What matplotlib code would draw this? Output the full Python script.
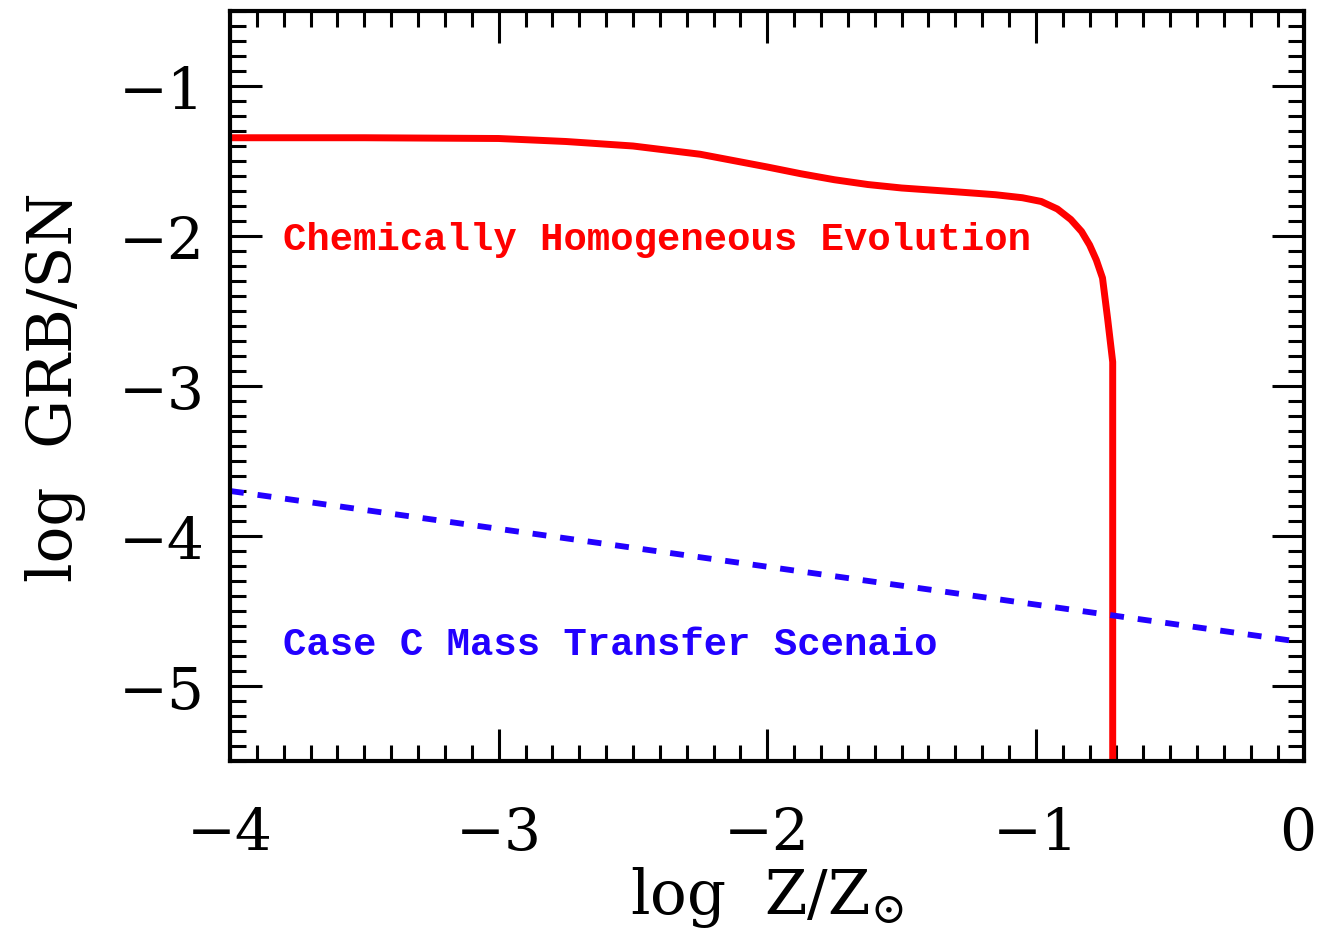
import matplotlib
matplotlib.use("Agg")
import matplotlib.pyplot as plt
from matplotlib.ticker import MultipleLocator
from matplotlib.transforms import ScaledTranslation

# chemically homogeneous evolution channel
che_logz = [-4.0, -3.5, -3.0, -2.75, -2.5, -2.25, -2.0, -1.875, -1.75, -1.625,
            -1.5, -1.3, -1.15, -1.05, -0.98, -0.92, -0.87, -0.83, -0.80,
            -0.775, -0.752, -0.733, -0.714, -0.714]
che_ratio = [-1.345, -1.345, -1.35, -1.37, -1.40, -1.455, -1.54, -1.585,
             -1.625, -1.657, -1.68, -1.705, -1.725, -1.745, -1.77, -1.82,
             -1.89, -1.97, -2.06, -2.16, -2.28, -2.55, -2.84, -5.5]

# case C mass transfer channel
casec_logz = [-4.0, 0.0]
casec_ratio = [-3.70, -4.71]

plt.rcParams['font.family'] = 'DejaVu Serif'
plt.rcParams['mathtext.fontset'] = 'dejavuserif'
plt.rcParams['lines.scale_dashes'] = False

fig = plt.figure(figsize=(13.19, 9.45), dpi=100)
ax = fig.add_axes([0.1744, 0.1937, 0.8146, 0.7936])

ax.plot(che_logz, che_ratio, color='#ff0000', lw=5, solid_joinstyle='round')
ax.plot(casec_logz, casec_ratio, color='#2200ff', lw=4.2, dashes=(10, 10))

ax.text(-3.803, -2.02, 'Chemically Homogeneous Evolution', color='#ff0000',
        family='Liberation Mono', weight='bold', fontsize=28, va='center')
ax.text(-3.803, -4.72, 'Case C Mass Transfer Scenaio', color='#2200ff',
        family='Liberation Mono', weight='bold', fontsize=28, va='center')

ax.set_xlim(-4, 0)
ax.set_ylim(-5.5, -0.5)
ax.set_xticks([-4, -3, -2, -1, 0])
ax.xaxis.set_minor_locator(MultipleLocator(0.1))
ax.yaxis.set_major_locator(MultipleLocator(1))
ax.yaxis.set_minor_locator(MultipleLocator(0.1))

for sp in ax.spines.values():
    sp.set_linewidth(3)

ax.tick_params(which='both', direction='in', top=True, right=True, width=2.2)
ax.tick_params(which='major', length=23, labelsize=42)
ax.tick_params(which='minor', length=11.5)
ax.tick_params(axis='x', which='major', pad=32)
ax.tick_params(axis='y', which='major', pad=18)

# nudge the "0" label so it stays inside the figure
last = ax.get_xticklabels()[-1]
last.set_transform(last.get_transform() + ScaledTranslation(-0.07, 0, fig.dpi_scale_trans))

ax.set_xlabel(r'log  Z/Z$_{\odot}$', fontsize=44, labelpad=2)
ax.set_ylabel('log  GRB/SN', fontsize=44, labelpad=24)

fig.savefig('out.png', dpi=100)
